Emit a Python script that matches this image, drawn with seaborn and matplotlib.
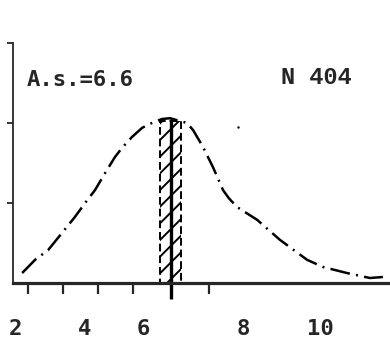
import matplotlib
matplotlib.use("Agg")
import matplotlib.pyplot as plt
import seaborn as sns
import numpy as np
import pandas as pd

# data
curve_x = [2.21, 2.59, 2.97, 3.38, 3.76, 4.06, 4.35, 4.65, 4.94, 5.15, 5.44, 5.74,
           5.97, 6.32, 6.56, 7.06, 7.24, 7.53, 7.82, 8.12, 8.29, 8.53, 9.12, 9.79,
           10.59, 11.06, 11.76, 12.44, 12.82]
curve_y = [0.125, 0.29, 0.41, 0.625, 0.825, 1.00, 1.16, 1.375, 1.575, 1.69, 1.825, 1.94,
           1.99, 2.05, 2.06, 2.00, 1.91, 1.70, 1.45, 1.16, 1.06, 0.95, 0.79, 0.54,
           0.29, 0.20, 0.125, 0.0625, 0.075]
speck_x = [8.56]
speck_y = [1.95]
mean_value = 6.6
bar_center = 6.57
bar_width = 0.62
bar_height = 2.03
tick_labels = ["2", "4", "6", "8", "10"]
label_x = [2.0, 4.06, 5.76, 8.71, 10.97]
tick_marks = [2.38, 3.41, 4.44, 5.47, 7.71]
y_ticks = [1, 2, 3]
note_left = "A.s.=6.6"
note_right = "N 404"

sns.set_style("ticks")
plt.rcParams['font.family'] = ['DejaVu Sans Mono', 'DejaVu Sans']
plt.rcParams['hatch.linewidth'] = 1.4

fig = plt.figure(figsize=(3.9, 3.43), dpi=100)
ax = fig.add_axes([13/390, 60/343, 377/390, 240/343])

df = pd.DataFrame({"x": curve_x, "y": curve_y})
sns.lineplot(data=df, x="x", y="y", ax=ax, sort=False, color="black",
             linewidth=1.8, linestyle=(0, (8, 2.5, 0.8, 2.5)))
sns.scatterplot(x=speck_x, y=speck_y, ax=ax, color="black", s=3, linewidth=0)

ax.bar([bar_center], [bar_height], width=bar_width, fill=False,
       edgecolor="black", hatch="//", linewidth=1.4, linestyle=(0, (4, 2)))
ax.vlines(mean_value, -0.2, bar_height + 0.02, color="black", linewidth=2.4,
          clip_on=False)

ax.set_xlim(1.94, 13.03)
ax.set_ylim(0, 3)
ax.set_xlabel("")
ax.set_ylabel("")

ax.set_xticks(label_x)
ax.set_xticklabels(tick_labels, fontsize=16, fontweight="bold")
ax.tick_params(axis="x", which="major", length=0, pad=26)
ax.set_xticks(tick_marks, minor=True)
ax.tick_params(axis="x", which="minor", length=8, width=1.6, direction="out")

ax.set_yticks(y_ticks)
ax.set_yticklabels([])
ax.tick_params(axis="y", length=4, width=1.3, direction="out")

sns.despine(ax=ax)
ax.spines["left"].set_linewidth(1.3)
ax.spines["bottom"].set_linewidth(2.3)

fig.text(27/390, 1 - 80/343, note_left, fontsize=16, ha="left", va="center",
         fontweight="bold")
fig.text(316/390, 1 - 78/343, note_right, fontsize=17, ha="center", va="center",
         family=['Liberation Mono', 'DejaVu Sans Mono'], fontweight="bold")

fig.savefig("out.png", dpi=100)
